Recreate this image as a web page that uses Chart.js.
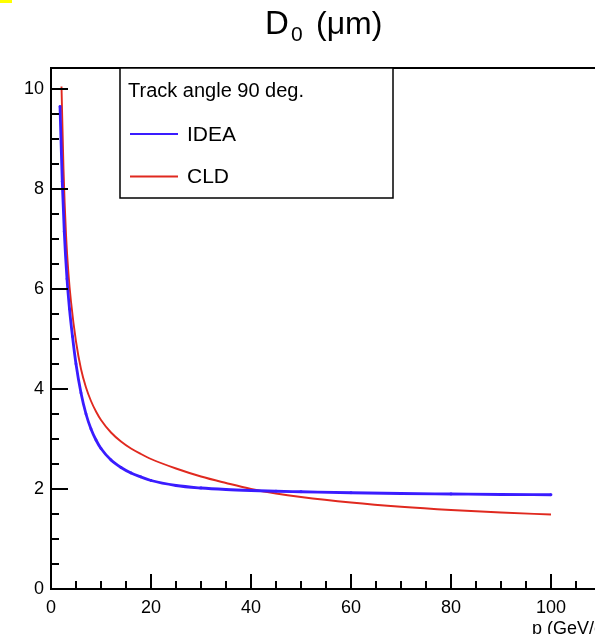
<!DOCTYPE html>
<html>
<head>
<meta charset="utf-8">
<script src="https://cdn.jsdelivr.net/npm/chart.js@4/dist/chart.umd.min.js"></script>
<style>
  html, body { margin: 0; padding: 0; background: #fff; overflow: hidden; }
  #wrap { position: relative; width: 595px; height: 634px; overflow: hidden; }
  #mark { position: absolute; left: 0; top: 0; width: 12px; height: 3px; background: #ffff00; }
  canvas { position: absolute; left: 0; top: 0; }
</style>
</head>
<body>
<div id="wrap">
  <canvas id="d0Chart" width="620" height="634"></canvas>
  <div id="mark"></div>
</div>
<script>
// Dados (p em GeV/c, D0 em µm)
const pIdea = [1.8, 2.25, 2.65, 3.2, 3.7, 4.3, 5, 6, 7, 8, 9, 10, 12, 14, 16, 18, 20, 25, 30, 35, 40, 45, 50, 60, 70, 80, 90, 100];
const d0Idea = [9.65, 8.15, 7.15, 6.2, 5.6, 5.05, 4.5, 3.92, 3.5, 3.2, 2.98, 2.81, 2.58, 2.43, 2.32, 2.24, 2.17, 2.07, 2.02, 1.99, 1.97, 1.955, 1.945, 1.925, 1.91, 1.9, 1.89, 1.885];

const pCld = [2.1, 2.5, 3, 3.5, 4, 5, 6, 7, 8, 9, 10, 12, 14, 16, 18, 20, 25, 30, 35, 40, 45, 50, 60, 70, 80, 90, 100];
const d0Cld = [10.05, 8.4, 7.1, 6.3, 5.75, 4.95, 4.4, 4.03, 3.76, 3.55, 3.38, 3.13, 2.95, 2.81, 2.7, 2.6, 2.41, 2.25, 2.12, 2.0, 1.91, 1.84, 1.73, 1.645, 1.58, 1.53, 1.49];

const xTicks = [0, 20, 40, 60, 80, 100];
const yTicks = [0, 2, 4, 6, 8, 10];

const FONT = '"Liberation Sans", Arial, sans-serif';
Chart.defaults.font.family = FONT;

// Título, moldura, marcas internas e legenda ao estilo ROOT
const rootStyle = {
    id: 'rootStyle',
    afterDatasetsDraw(chart) {
        const ctx = chart.ctx;
        const a = chart.chartArea;
        const xs = chart.scales.x;
        const ys = chart.scales.y;
        ctx.save();

        // moldura
        ctx.strokeStyle = '#000';
        ctx.lineWidth = 2;
        ctx.strokeRect(a.left, a.top, a.right - a.left, a.bottom - a.top);

        // marcas do eixo x (para dentro)
        ctx.beginPath();
        for (let v = 0; v <= xs.max; v += 5) {
            const px = Math.round(xs.getPixelForValue(v));
            const len = xTicks.includes(v) ? 15 : 8;
            ctx.moveTo(px, a.bottom);
            ctx.lineTo(px, a.bottom - len);
        }
        // marcas do eixo y
        for (let v = 0; v <= ys.max; v += 0.5) {
            const py = Math.round(ys.getPixelForValue(v));
            const len = yTicks.includes(v) ? 17 : 8;
            ctx.moveTo(a.left, py);
            ctx.lineTo(a.left + len, py);
        }
        ctx.stroke();

        // legenda
        const bx = 120, by = a.top, bw = 273, bh = 130;
        ctx.fillStyle = '#fff';
        ctx.fillRect(bx, by, bw, bh);
        ctx.lineWidth = 1.5;
        ctx.strokeStyle = '#000';
        ctx.strokeRect(bx, by, bw, bh);
        ctx.fillStyle = '#000';
        ctx.textBaseline = 'middle';
        ctx.textAlign = 'left';
        ctx.font = '20px ' + FONT;
        ctx.fillText('Track angle 90 deg.', 128, 91);
        ctx.font = '21px ' + FONT;
        chart.data.datasets.forEach((ds, i) => {
            const y = 134 + i * 42.5;
            ctx.strokeStyle = ds.borderColor;
            ctx.lineWidth = 1.8;
            ctx.beginPath();
            ctx.moveTo(130, y);
            ctx.lineTo(178, y);
            ctx.stroke();
            ctx.fillText(ds.label, 187, y + 1);
        });

        // título
        ctx.font = '33px ' + FONT;
        ctx.fillText('D', 265, 25);
        ctx.font = '21px ' + FONT;
        ctx.fillText('0', 291, 35);
        ctx.font = '32px ' + FONT;
        ctx.fillText('(\u03bcm)', 316, 25);

        // título do eixo x
        ctx.font = '18px ' + FONT;
        ctx.fillText('p (GeV/c)', 532, 629);
        ctx.restore();
    }
};

const ctx = document.getElementById('d0Chart').getContext('2d');
const d0Chart = new Chart(ctx, {
    type: 'line',
    data: {
        datasets: [
            {
                label: 'IDEA',
                data: pIdea.map((p, i) => ({ x: p, y: d0Idea[i] })),
                borderColor: '#3a1cff',
                backgroundColor: '#3a1cff',
                borderWidth: 2.8,
                pointRadius: 1.4,
                pointBorderWidth: 0,
                cubicInterpolationMode: 'monotone'
            },
            {
                label: 'CLD',
                data: pCld.map((p, i) => ({ x: p, y: d0Cld[i] })),
                borderColor: '#e0291f',
                backgroundColor: '#e0291f',
                borderWidth: 1.9,
                pointRadius: 0,
                cubicInterpolationMode: 'monotone'
            }
        ]
    },
    options: {
        responsive: false,
        animation: false,
        layout: { padding: { top: 68, right: 19, left: 0, bottom: 0 } },
        plugins: {
            legend: { display: false },
            tooltip: { enabled: false }
        },
        scales: {
            x: {
                type: 'linear',
                min: 0,
                max: 110,
                afterBuildTicks: s => { s.ticks = xTicks.map(v => ({ value: v })); },
                afterFit: s => { s.height = 45; },
                grid: { display: false, drawTicks: false },
                border: { display: false },
                ticks: { color: '#000', font: { size: 18 }, padding: 8, maxRotation: 0, autoSkip: false }
            },
            y: {
                type: 'linear',
                min: 0,
                max: 10.42,
                afterBuildTicks: s => { s.ticks = yTicks.map(v => ({ value: v })); },
                afterFit: s => { s.width = 51; },
                grid: { display: false, drawTicks: false },
                border: { display: false },
                ticks: { color: '#000', font: { size: 18 }, padding: 7 }
            }
        }
    },
    plugins: [rootStyle]
});
</script>
</body>
</html>
